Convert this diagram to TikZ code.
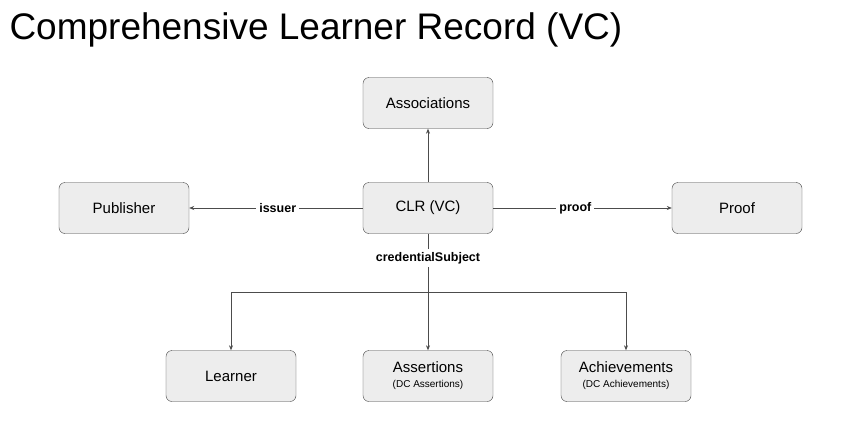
\documentclass[tikz,border=0pt]{standalone}
\usepackage{fontspec}
\setmainfont{Liberation Sans}
\usetikzlibrary{positioning,arrows.meta}

\begin{document}
\begin{tikzpicture}[
    x=1pt, y=-1pt,
    entity/.style={rectangle, rounded corners=6pt, draw=black!75, fill=black!7, minimum width=130pt, minimum height=51pt, align=center, font=\fontsize{15}{17}\selectfont},
    arrow/.style={-{Stealth[length=5pt,width=4pt]}, draw=black!70, semithick},
    link/.style={draw=black!70, semithick},
    lbl/.style={fill=white, font=\fontsize{12.5}{14}\selectfont\bfseries, inner sep=3pt}
]
\useasboundingbox (0,0) rectangle (856,423);

% Title
\node[anchor=west, font=\fontsize{37}{42}\selectfont] (title) at (6,30) {Comprehensive Learner Record (VC)};

% Main record and its neighbours
\node[entity] (clr) at (428,208) {CLR (VC)};
\node[entity] (assoc) at (428,103) {Associations};
\node[entity] (publisher) at (124,208) {Publisher};
\node[entity] (proof) at (737,208) {Proof};

% Subjects
\node[entity] (learner) at (231,376) {Learner};
\node[entity] (assertions) at (428,376) {Assertions\\[-2pt]{\fontsize{10}{11}\selectfont (DC Assertions)}};
\node[entity] (achieve) at (626,376) {Achievements\\[-2pt]{\fontsize{10}{11}\selectfont (DC Achievements)}};

% Connectors
\draw[arrow] (clr) -- (assoc);
\draw[arrow] (clr) -- node[lbl, pos=0.49] {issuer} (publisher);
\draw[arrow] (clr) -- node[lbl, pos=0.46] {proof} (proof);

\coordinate (split) at (428,292);
\draw[link] (clr.south) -- node[lbl, pos=0.42] {credentialSubject} (split);
\coordinate (splitL) at (learner.north |- split);
\coordinate (splitR) at (achieve.north |- split);
\draw[link] (splitL) -- (splitR);
\draw[arrow] (splitL) -- (learner);
\draw[arrow] (split) -- (assertions);
\draw[arrow] (splitR) -- (achieve);

\end{tikzpicture}
\end{document}
